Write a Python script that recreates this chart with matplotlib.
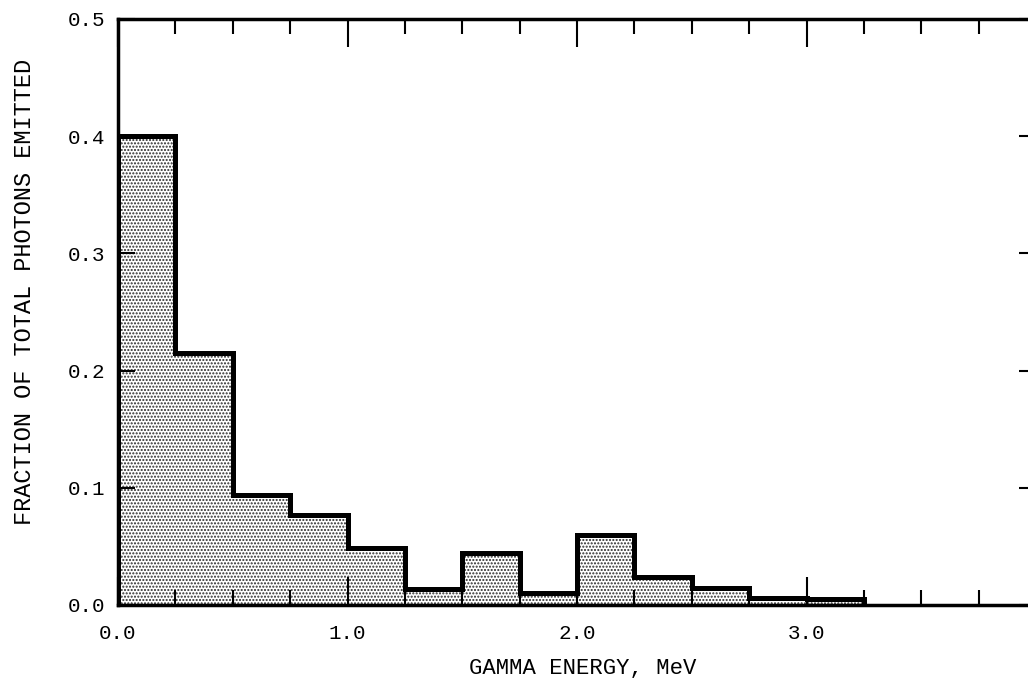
import matplotlib
matplotlib.use("Agg")
import matplotlib.pyplot as plt
from matplotlib.ticker import MultipleLocator

# energigrenser for stolpene (MeV), 0.25 MeV brede
energi_grenser = [0.0, 0.25, 0.5, 0.75, 1.0, 1.25, 1.5, 1.75, 2.0, 2.25, 2.5, 2.75, 3.0, 3.25]
# andel av alle fotoner i hvert energiintervall
andel = [0.400, 0.215, 0.094, 0.077, 0.049, 0.014, 0.044, 0.010, 0.060, 0.024, 0.0145, 0.006, 0.005]

x_merker = [0.0, 1.0, 2.0, 3.0]
x_tekst = ["0.0", "1.0", "2.0", "3.0"]
y_merker = [0.0, 0.1, 0.2, 0.3, 0.4, 0.5]
y_tekst = ["0.0", "0.1", "0.2", "0.3", "0.4", "0.5"]

plt.rcParams["font.family"] = ["Liberation Mono", "DejaVu Sans Mono"]
plt.rcParams["hatch.linewidth"] = 1.0

fig = plt.figure(figsize=(10.28, 6.93), dpi=100)
ax = fig.add_axes([118 / 1028, 88 / 693, 918 / 1028, 586 / 693])

# prikket fyll under trappekurven
ax.stairs(andel, energi_grenser, fill=True, facecolor="white",
          edgecolor="#2a2a2a", hatch=".....", linewidth=0)
# tykk kontur
ax.stairs(andel, energi_grenser, color="black", linewidth=3.6, baseline=0)

ax.set_xlim(0, 4.0)
ax.set_ylim(0, 0.5)

ax.set_xticks(x_merker)
ax.set_xticklabels(x_tekst, fontsize=15)
ax.xaxis.set_minor_locator(MultipleLocator(0.25))
ax.set_yticks(y_merker)
ax.set_yticklabels(y_tekst, fontsize=15)

ax.tick_params(axis="x", which="both", direction="in", top=True, bottom=True, width=1.5)
ax.tick_params(axis="x", which="major", length=20, pad=14)
ax.tick_params(axis="x", which="minor", length=11)
ax.tick_params(axis="y", direction="in", left=True, right=True, length=12, width=1.5, pad=9)

for spine in ax.spines.values():
    spine.set_linewidth(2.5)

fig.text(583 / 1028, 1 - 668 / 693, "GAMMA ENERGY, MeV", fontsize=16, ha="center", va="center")
fig.text(25 / 1028, 1 - 292 / 693, "FRACTION OF TOTAL PHOTONS EMITTED", fontsize=17,
         rotation=90, ha="center", va="center")

fig.savefig("out.png", dpi=100)
